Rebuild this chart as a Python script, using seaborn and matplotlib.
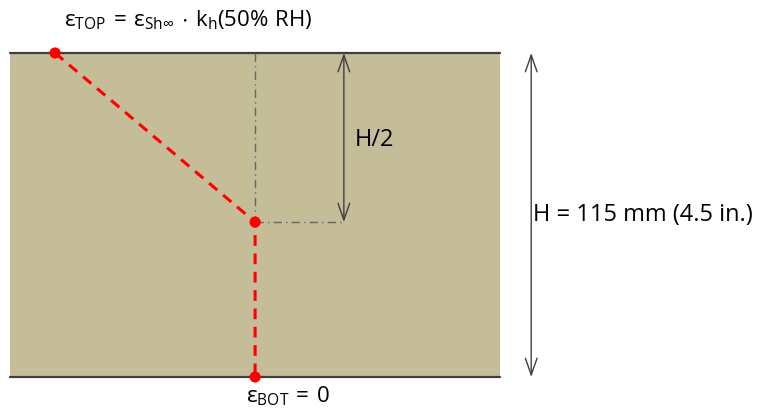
import matplotlib
matplotlib.use("Agg")
import matplotlib.pyplot as plt
import seaborn as sns
import pandas as pd
from matplotlib.patches import Rectangle

sns.set_theme(style="white")
plt.rcParams['font.family'] = ['Open Sans', 'DejaVu Sans']
plt.rcParams['mathtext.fontset'] = 'custom'
plt.rcParams['mathtext.rm'] = 'Open Sans'
plt.rcParams['mathtext.it'] = 'Open Sans'

# ---- data (mm) ----
slab_depth = 115.0            # H = 115 mm
slab_width = 174.0
profile_x = [16.0, 87.0, 87.0]          # horizontal position of strain profile points
profile_depth = [0.0, 60.0, 115.0]      # depth from top surface
top_label = r'$\mathregular{ε_{TOP}\,=\,ε_{Sh∞}\,\cdot\,k_h(50\%\ RH)}$'
bot_label = r'$\mathregular{ε_{BOT}\,=\,0}$'
half_label = 'H/2'
height_label = 'H = 115 mm (4.5 in.)'

px_per_mm = 324 / 115.0
W, Hpx = 763, 411
fig = plt.figure(figsize=(W / 100, Hpx / 100), dpi=100)
ax = fig.add_axes([0, 0, 1, 1])
x0 = -10 / px_per_mm
y0 = -53 / px_per_mm

edge = '#3f3f3f'
ax.add_patch(Rectangle((0, 0), slab_width, slab_depth, facecolor='#c4bd98', edgecolor='none', zorder=0))
ax.plot([0, slab_width], [0, 0], color=edge, lw=1.6, zorder=1)
ax.plot([0, slab_width], [slab_depth, slab_depth], color=edge, lw=1.6, zorder=1)

# dash-dot guide lines
cx = profile_x[1]
kink = profile_depth[1]
ax.plot([cx, cx], [0, kink], color='#666666', lw=1.0, ls=(0, (6, 3, 1, 3)), zorder=2)
arrow_x = 118.5
ax.plot([cx, arrow_x], [kink, kink], color='#666666', lw=1.0, ls=(0, (6, 3, 1, 3)), zorder=2)

# arrows
ap = dict(arrowstyle='<->,head_length=1.0,head_width=0.35', color=edge, lw=1.0, shrinkA=0, shrinkB=0)
ax.annotate('', xy=(arrow_x, 0), xytext=(arrow_x, kink), arrowprops=ap)
big_x = 185.0
ax.annotate('', xy=(big_x, 0), xytext=(big_x, slab_depth), arrowprops=ap)

# strain profile
df = pd.DataFrame({'x': profile_x, 'depth': profile_depth})
sns.lineplot(data=df, x='x', y='depth', sort=False, color='#ff0000', lw=2.2,
             linestyle=(0, (3.5, 2.5)), ax=ax, zorder=3, estimator=None)
sns.scatterplot(data=df, x='x', y='depth', color='#ff0000', s=65, edgecolor='none', ax=ax, zorder=4)
ax.set_xlabel('')
ax.set_ylabel('')
ax.set_xlim(x0, x0 + W / px_per_mm)
ax.set_ylim(y0 + Hpx / px_per_mm, y0)
ax.axis('off')

fs = 17
ax.text((188 - 10) / px_per_mm, -33 / px_per_mm, top_label, fontsize=16.0, ha='center', va='center', color='black')
ax.text((288 - 10) / px_per_mm, (396 - 53) / px_per_mm, bot_label, fontsize=16.0, ha='center', va='center', color='black')
ax.text((355 - 10) / px_per_mm, (140 - 53) / px_per_mm, half_label, fontsize=fs, ha='left', va='center', color='black')
ax.text((533 - 10) / px_per_mm, (215 - 53) / px_per_mm, height_label, fontsize=fs, ha='left', va='center', color='black')

fig.savefig('out.png', dpi=100)
